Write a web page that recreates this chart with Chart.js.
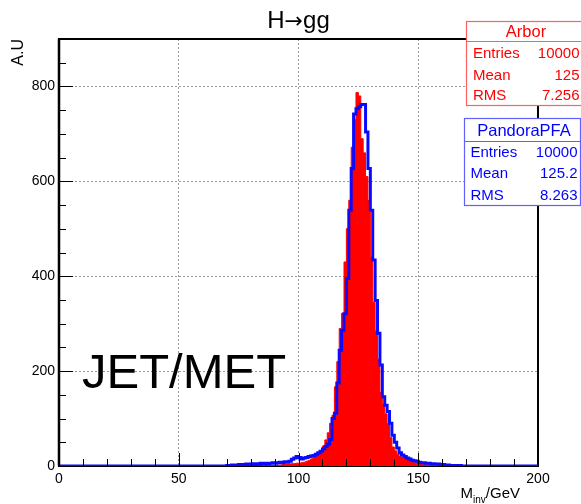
<!DOCTYPE html>
<html>
<head>
<meta charset="utf-8">
<script src="https://cdn.jsdelivr.net/npm/chart.js@4.4.0/dist/chart.umd.min.js"></script>
<style>
  html, body { margin: 0; padding: 0; background: #fff; }
</style>
</head>
<body>
<canvas id="histChart" width="581" height="504"></canvas>
<script>
// 200 bins of 1 GeV between 0 and 200, only bins 70..169 are stored (rest are empty)
const binLow = 0;
const binHigh = 200;
const binWidth = 1;
const firstBin = 70;

const pandoraCounts = [
  1, 1, 2, 1, 2, 3, 2, 3, 4, 3,
  4, 5, 4, 5, 6, 5, 6, 5, 6, 7,
  6, 7, 8, 7, 9, 8, 10, 14, 17, 20,
  18, 15, 17, 18, 20, 21, 22, 25, 28, 31,
  36, 41, 46, 56, 100, 111, 175, 244, 286, 321,
  395, 539, 627, 742, 753, 757, 762, 762, 704, 627,
  539, 434, 349, 280, 213, 146, 128, 115, 90, 65,
  50, 38, 28, 23, 20, 17, 15, 12, 11, 10,
  8, 7, 7, 6, 6, 5, 5, 4, 4, 3,
  3, 2, 2, 1, 1, 1, 0, 1, 0, 0
];

const arborCounts = [
  0, 0, 0, 0, 0, 0, 0, 0, 0, 0,
  0, 0, 0, 0, 0, 1, 0, 1, 1, 1,
  1, 2, 2, 3, 3, 4, 4, 5, 5, 6,
  6, 7, 8, 10, 12, 15, 19, 22, 26, 32,
  42, 55, 70, 90, 107, 167, 220, 290, 322, 430,
  500, 560, 672, 730, 787, 780, 690, 660, 610, 560,
  440, 345, 285, 225, 155, 130, 110, 90, 60, 40,
  32, 25, 20, 18, 16, 14, 12, 10, 8, 6,
  5, 4, 3, 3, 2, 2, 1, 1, 1, 0,
  0, 0, 0, 0, 0, 0, 0, 0, 0, 0
];

const xTickValues = [0, 50, 100, 150, 200];
const yTickValues = [0, 200, 400, 600, 800];
const xMinorStep = 10;
const yMinorStep = 50;
const yMax = 900;

const arborStats = [['Entries', '10000'], ['Mean', '125'], ['RMS', '7.256']];
const pandoraStats = [['Entries', '10000'], ['Mean', '125.2'], ['RMS', '8.263']];

const fontFamily = '"Liberation Sans", Arial, Helvetica, sans-serif';

// histogram -> points on the low edge of every bin, plus the closing edge
function stepPoints(counts) {
  const nBins = Math.round((binHigh - binLow) / binWidth);
  const pts = [];
  for (let i = 0; i < nBins; i++) {
    const k = i - firstBin;
    const c = (k >= 0 && k < counts.length) ? counts[k] : 0;
    pts.push({ x: binLow + i * binWidth, y: c });
  }
  pts.push({ x: binHigh, y: pts[pts.length - 1].y });
  return pts;
}

function drawStatBox(ctx, b, title, rows, textColor, lineColor) {
  ctx.save();
  ctx.fillStyle = '#fff';
  ctx.fillRect(b.x, b.y, b.w, b.h);
  ctx.strokeStyle = lineColor;
  ctx.lineWidth = 1.2;
  ctx.strokeRect(b.x + 0.5, b.y + 0.5, b.w, b.h);
  ctx.beginPath();
  ctx.moveTo(b.x, b.sep + 0.5);
  ctx.lineTo(b.x + b.w, b.sep + 0.5);
  ctx.stroke();

  ctx.fillStyle = textColor;
  ctx.textBaseline = 'alphabetic';
  ctx.font = b.titleSize + 'px ' + fontFamily;
  ctx.textAlign = 'center';
  ctx.fillText(title, b.titleX, b.titleY);

  ctx.font = b.rowSize + 'px ' + fontFamily;
  rows.forEach((r, i) => {
    ctx.textAlign = 'left';
    ctx.fillText(r[0], b.textLeft, b.rowY[i]);
    ctx.textAlign = 'right';
    ctx.fillText(r[1], b.textRight, b.rowY[i]);
  });
  ctx.restore();
}

// title "H→gg": the arrow from DejaVu, Liberation's one is tiny
function drawTitle(ctx, cx, baseline) {
  const parts = [
    ['H', '24px ' + fontFamily],
    ['\u2192', '22px "DejaVu Sans", sans-serif'],
    ['gg', '24px ' + fontFamily]
  ];
  ctx.save();
  ctx.fillStyle = '#000';
  ctx.textAlign = 'left';
  ctx.textBaseline = 'alphabetic';
  let total = 0;
  const widths = parts.map(p => { ctx.font = p[1]; const w = ctx.measureText(p[0]).width; total += w; return w; });
  let tx = cx - total / 2;
  parts.forEach((p, i) => {
    ctx.font = p[1];
    ctx.fillText(p[0], tx, baseline);
    tx += widths[i];
  });
  ctx.restore();
}

const histDecor = {
  id: 'histDecor',
  beforeDatasetsDraw(chart) {
    const { ctx, chartArea: a } = chart;
    ctx.save();
    ctx.strokeStyle = '#000';
    ctx.lineWidth = 2;
    ctx.strokeRect(a.left, a.top, a.right - a.left, a.bottom - a.top);
    ctx.restore();
  },
  afterDatasetsDraw(chart) {
    const { ctx, chartArea: a, scales: { x, y } } = chart;
    ctx.save();
    ctx.strokeStyle = '#000';
    ctx.lineWidth = 1;
    ctx.beginPath();
    // ROOT style ticks, pointing into the frame
    for (let v = binLow; v <= binHigh; v += xMinorStep) {
      const px = Math.round(x.getPixelForValue(v)) + 0.5;
      const len = xTickValues.includes(v) ? 13 : 7;
      ctx.moveTo(px, a.bottom);
      ctx.lineTo(px, a.bottom - len);
    }
    for (let v = 0; v <= yMax; v += yMinorStep) {
      const py = Math.round(y.getPixelForValue(v)) + 0.5;
      const len = yTickValues.includes(v) ? 14 : 7;
      ctx.moveTo(a.left, py);
      ctx.lineTo(a.left + len, py);
    }
    ctx.stroke();
    // left axis on top of everything
    ctx.lineWidth = 2.5;
    ctx.beginPath();
    ctx.moveTo(a.left, a.top);
    ctx.lineTo(a.left, a.bottom);
    ctx.stroke();
    ctx.restore();
  },
  afterDraw(chart) {
    const { ctx, chartArea: a } = chart;

    drawTitle(ctx, (a.left + a.right) / 2, 28);

    // x axis title with subscript
    ctx.save();
    ctx.fillStyle = '#000';
    ctx.textBaseline = 'alphabetic';
    ctx.textAlign = 'left';
    const mainFont = '15px ' + fontFamily;
    const subFont = '10px ' + fontFamily;
    ctx.font = mainFont;
    const wM = ctx.measureText('M').width;
    const wG = ctx.measureText('/GeV').width;
    ctx.font = subFont;
    const wS = ctx.measureText('inv').width;
    let tx = 520 - (wM + wS + wG);
    ctx.font = mainFont;
    ctx.fillText('M', tx, 498);
    tx += wM;
    ctx.font = subFont;
    ctx.fillText('inv', tx, 503);
    tx += wS;
    ctx.font = mainFont;
    ctx.fillText('/GeV', tx, 498);

    // big label
    ctx.font = '49px ' + fontFamily;
    ctx.fillText('JET/MET', 82, 388);
    ctx.restore();

    drawStatBox(ctx, {
      x: 466, y: 21, w: 120, h: 84, sep: 41,
      titleX: 526, titleY: 37, titleSize: 16.5,
      rowSize: 15, textLeft: 473, textRight: 579.5, rowY: [58, 79.5, 100]
    }, 'Arbor', arborStats, '#ff0000', '#ff6060');

    drawStatBox(ctx, {
      x: 464, y: 118, w: 116, h: 87, sep: 141,
      titleX: 524, titleY: 136, titleSize: 16.5,
      rowSize: 15, textLeft: 470.5, textRight: 577.5, rowY: [157, 177.5, 200]
    }, 'PandoraPFA', pandoraStats, '#0000ff', '#6060ff');
  }
};

new Chart(document.getElementById('histChart'), {
  type: 'line',
  data: {
    datasets: [
      {
        label: 'PandoraPFA',
        data: stepPoints(pandoraCounts),
        stepped: 'before',
        borderColor: '#0a0aff',
        borderWidth: 3,
        pointRadius: 0,
        fill: false
      },
      {
        label: 'Arbor',
        data: stepPoints(arborCounts),
        stepped: 'before',
        borderColor: '#ff0000',
        backgroundColor: '#ff0000',
        borderWidth: 1,
        pointRadius: 0,
        fill: 'origin'
      }
    ]
  },
  options: {
    responsive: false,
    animation: false,
    layout: { padding: { left: 0, right: 43, top: 39, bottom: 0 } },
    plugins: {
      legend: { display: false },
      tooltip: { enabled: false },
      title: { display: false }
    },
    scales: {
      x: {
        type: 'linear',
        min: binLow,
        max: binHigh,
        afterBuildTicks: s => { s.ticks = xTickValues.map(v => ({ value: v })); },
        afterFit: s => { s.height = 38; },
        ticks: {
          color: '#000',
          padding: 5,
          maxRotation: 0,
          font: { family: fontFamily, size: 14 }
        },
        grid: { color: '#999', drawTicks: false },
        border: { display: false, dash: [2, 2] }
      },
      y: {
        min: 0,
        max: yMax,
        afterBuildTicks: s => { s.ticks = yTickValues.map(v => ({ value: v })); },
        afterFit: s => { s.width = 59; },
        ticks: {
          color: '#000',
          padding: 4,
          font: { family: fontFamily, size: 14 }
        },
        grid: { color: '#999', drawTicks: false },
        border: { display: false, dash: [2, 2] },
        title: {
          display: true,
          text: 'A.U',
          align: 'end',
          color: '#000',
          font: { family: fontFamily, size: 16 },
          padding: { top: 9, bottom: 0 }
        }
      }
    }
  },
  plugins: [histDecor]
});
</script>
</body>
</html>
